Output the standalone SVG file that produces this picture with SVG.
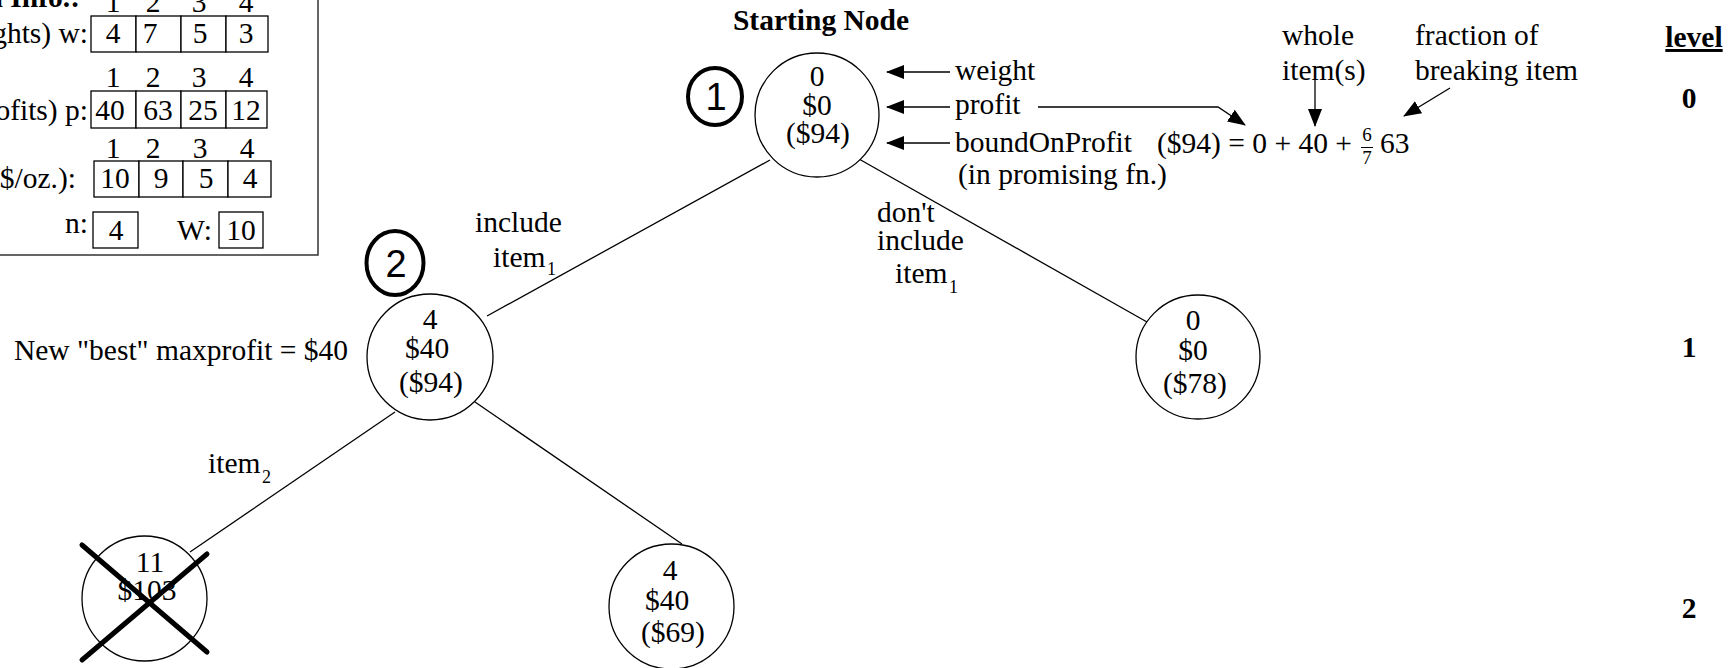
<svg xmlns="http://www.w3.org/2000/svg" width="1733" height="668" viewBox="0 0 1733 668">
<style>
text{font-family:"Liberation Serif","Times New Roman",serif;font-size:29.5px;fill:#000}
.b{font-weight:bold}
.m{text-anchor:middle}
.e{text-anchor:end}
.sub{font-size:18px}
.frac{font-size:19px;text-anchor:middle}
.sans{font-family:"Liberation Sans",Arial,sans-serif;font-size:38px;text-anchor:middle}
.node{fill:#fff;stroke:#000;stroke-width:1.3}
.cell{fill:#fff;stroke:#000;stroke-width:1.3}
.edge{stroke:#000;stroke-width:1.3;fill:none}
.arr{stroke:#000;stroke-width:1.3;fill:none;marker-end:url(#ah)}
.tag{fill:none;stroke:#000;stroke-width:4}
.x{stroke:#000;stroke-width:5;stroke-linecap:round}
</style>
<defs>
<marker id="ah" markerUnits="userSpaceOnUse" markerWidth="18" markerHeight="14" refX="17" refY="7" orient="auto">
<path d="M0,0 L18,7 L0,14 z" fill="#000"/>
</marker>
</defs>
<rect width="1733" height="668" fill="#fff"/>

<g id="info-box">
<rect x="-20" y="-20" width="338" height="275" fill="#fff" stroke="#333" stroke-width="1.5"/>
<text class="b e" x="80" y="7">n Info.:</text>
<g class="m">
<text x="113" y="12">1</text><text x="153" y="12">2</text><text x="199" y="12">3</text><text x="246" y="12">4</text>
</g>
<text class="e" x="88" y="43">ghts) w:</text>
<rect class="cell" x="91" y="16" width="45" height="36"/><rect class="cell" x="136" y="16" width="45" height="36"/><rect class="cell" x="181" y="16" width="45" height="36"/><rect class="cell" x="226" y="16" width="42" height="36"/>
<g class="m">
<text x="113" y="43">4</text><text x="150" y="43">7</text><text x="200" y="43">5</text><text x="246" y="43">3</text>
<text x="113" y="87">1</text><text x="153" y="87">2</text><text x="199" y="87">3</text><text x="246" y="87">4</text>
</g>
<text class="e" x="88" y="120">ofits) p:</text>
<rect class="cell" x="91" y="91" width="45" height="37"/><rect class="cell" x="136" y="91" width="45" height="37"/><rect class="cell" x="181" y="91" width="45" height="37"/><rect class="cell" x="226" y="91" width="41" height="37"/>
<g class="m">
<text x="110" y="120">40</text><text x="158" y="120">63</text><text x="203" y="120">25</text><text x="246" y="120">12</text>
<text x="113" y="158">1</text><text x="153" y="158">2</text><text x="200" y="158">3</text><text x="247" y="158">4</text>
</g>
<text class="e" x="76" y="188">($/oz.):</text>
<rect class="cell" x="94" y="161" width="45" height="36"/><rect class="cell" x="139" y="161" width="44" height="36"/><rect class="cell" x="183" y="161" width="45" height="36"/><rect class="cell" x="228" y="161" width="43" height="36"/>
<g class="m">
<text x="115" y="188">10</text><text x="161" y="188">9</text><text x="206" y="188">5</text><text x="250" y="188">4</text>
</g>
<text class="e" x="88" y="233">n:</text>
<rect class="cell" x="93" y="212" width="45" height="36"/>
<text class="m" x="116" y="240">4</text>
<text class="e" x="212" y="240">W:</text>
<rect class="cell" x="219" y="212" width="44" height="36"/>
<text class="m" x="241" y="240">10</text>
</g>

<g id="connectors">
<line class="edge" x1="770" y1="160" x2="487" y2="316"/>
<line class="edge" x1="859" y1="159" x2="1147" y2="322"/>
<line class="edge" x1="395" y1="412" x2="190" y2="552"/>
<line class="edge" x1="475" y1="402" x2="682" y2="544"/>
<line class="arr" x1="950" y1="72" x2="887" y2="72"/>
<line class="arr" x1="950" y1="107" x2="887" y2="107"/>
<line class="arr" x1="950" y1="143" x2="887" y2="143"/>
<polyline class="arr" points="1038,107 1218,107 1245,125"/>
<line class="arr" x1="1315" y1="80" x2="1315" y2="126"/>
<line class="arr" x1="1450" y1="88" x2="1404" y2="116"/>
</g>

<g id="edge-labels">
<text x="475" y="232">include</text>
<text x="493" y="267">item</text><text class="sub" x="547" y="275">1</text>
<text x="877" y="222">don't</text>
<text x="877" y="250">include</text>
<text x="895" y="283">item</text><text class="sub" x="949" y="293">1</text>
<text x="208" y="473">item</text><text class="sub" x="262" y="483">2</text>
</g>

<g id="root">
<text class="b m" x="821" y="30">Starting Node</text>
<circle class="node" cx="817" cy="115" r="62"/>
<text class="m" x="817" y="86">0</text>
<text class="m" x="817" y="115">$0</text>
<text class="m" x="818" y="143">($94)</text>
<ellipse class="tag" cx="715" cy="96.5" rx="27" ry="28.5"/>
<text class="sans" x="716" y="110">1</text>
</g>

<g id="legend">
<text x="955" y="80">weight</text>
<text x="955" y="114">profit</text>
<text x="955" y="152">boundOnProfit</text>
<text x="958" y="184">(in promising fn.)</text>
<text x="1282" y="45">whole</text>
<text x="1282" y="80">item(s)</text>
<text x="1415" y="45">fraction of</text>
<text x="1415" y="80">breaking item</text>
<text x="1157" y="153">($94) = 0 + 40 +</text>
<text class="frac" x="1367" y="141">6</text>
<line x1="1361" y1="147.5" x2="1373" y2="147.5" stroke="#000" stroke-width="1"/>
<text class="frac" x="1367" y="164">7</text>
<text x="1380" y="153">63</text>
</g>

<g id="node2">
<circle class="node" cx="430" cy="357" r="63"/>
<text class="m" x="430" y="329">4</text>
<text class="m" x="427" y="358">$40</text>
<text class="m" x="431" y="392">($94)</text>
<ellipse class="tag" cx="395" cy="263" rx="28.5" ry="32"/>
<text class="sans" x="396" y="277">2</text>
<text class="e" x="348" y="360">New "best" maxprofit = $40</text>
</g>

<g id="node3">
<circle class="node" cx="1198" cy="357" r="62"/>
<text class="m" x="1193" y="330">0</text>
<text class="m" x="1193" y="360">$0</text>
<text class="m" x="1195" y="393">($78)</text>
</g>

<g id="node4">
<circle class="node" cx="144.5" cy="598.5" r="62.5"/>
<text class="m" x="150" y="572">11</text>
<text class="m" x="147" y="600">$103</text>
<line class="x" x1="82" y1="545" x2="207" y2="652"/>
<line class="x" x1="82" y1="660" x2="207" y2="554"/>
</g>

<g id="node5">
<circle class="node" cx="671.5" cy="606.5" r="62.5"/>
<text class="m" x="670" y="580">4</text>
<text class="m" x="667" y="610">$40</text>
<text class="m" x="673" y="642">($69)</text>
</g>

<g id="levels">
<text class="b m" x="1694" y="47" text-decoration="underline">level</text>
<text class="b m" x="1689" y="108">0</text>
<text class="b m" x="1689" y="357">1</text>
<text class="b m" x="1689" y="618">2</text>
</g>
</svg>
